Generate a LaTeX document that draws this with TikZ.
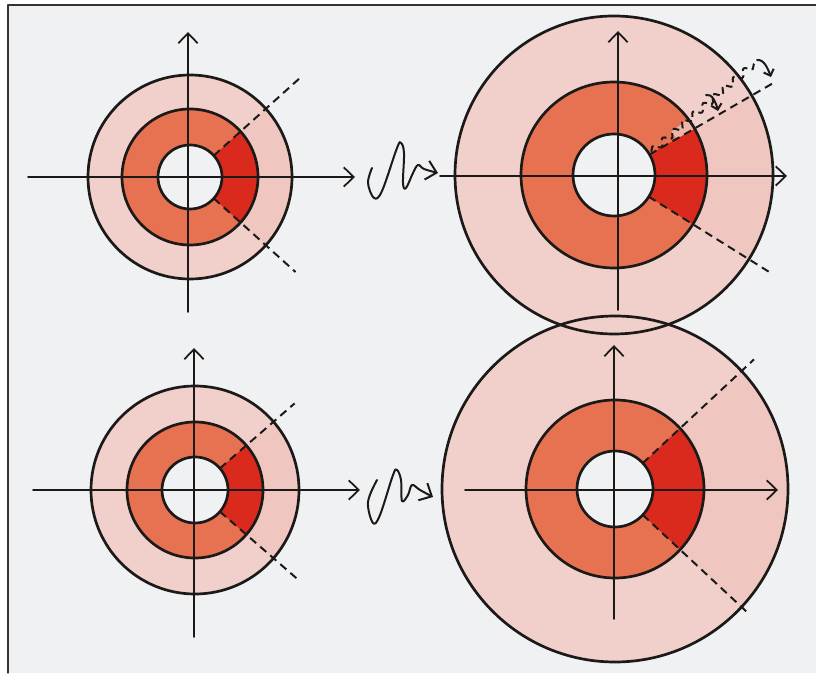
\documentclass[tikz,border=0pt]{standalone}
\usetikzlibrary{arrows.meta,calc,decorations.pathmorphing}

\definecolor{paper}{RGB}{239,241,243}
\definecolor{ink}{RGB}{28,26,24}
\definecolor{ringpale}{RGB}{241,208,204}
\definecolor{sectorpale}{RGB}{240,199,192}
\definecolor{ringmid}{RGB}{231,114,82}
\definecolor{ringred}{RGB}{218,42,30}

\begin{document}
\begin{tikzpicture}[x=0.03cm, y=0.03cm, line join=round, line cap=round,
    >={Straight Barb[length=3mm, width=5.8mm]},
    rim/.style={line width=2.3pt, draw=ink},
    axis/.style={line width=1.5pt, draw=ink},
    cut/.style={line width=1.7pt, draw=ink, line cap=butt, dash pattern=on 2.4mm off 1.6mm},
    squig/.style={line width=1.7pt, draw=ink}]

    \useasboundingbox (0,0) rectangle (816,673);

    % Paper and scan edge
    \fill[white] (0,0) rectangle (816,673);
    \fill[paper] (8,0) rectangle (816,668);
    \draw[line width=1pt, black!80] (8,0) -- (8,668) -- (816,668);

    % Centres
    \coordinate (tl) at (190,496);
    \coordinate (tr) at (614,498);
    \coordinate (bl) at (195,183);
    \coordinate (br) at (615,184);

    % Outer rings (the two on the right overlap)
    \fill[ringpale] (tr) circle (159);
    \fill[ringpale] (br) circle (173);
    \fill[ringpale] (tl) circle (102);
    \fill[ringpale] (bl) circle (104);
    \fill[sectorpale] (tl) -- +(-42:102) arc[start angle=-42, end angle=42, radius=102] -- cycle;
    \fill[sectorpale] (bl) -- +(-41:104) arc[start angle=-41, end angle=41, radius=104] -- cycle;
    \fill[sectorpale] (tr) -- +(-32:159) arc[start angle=-32, end angle=30, radius=159] -- cycle;
    \fill[sectorpale] (br) -- +(-43:173) arc[start angle=-43, end angle=43, radius=173] -- cycle;

    % Middle rings and red wedges
    \fill[ringmid] (tl) circle (68);
    \fill[ringmid] (bl) circle (68);
    \fill[ringmid] (tr) circle (93);
    \fill[ringmid] (br) circle (89);
    \fill[ringred] (tl) -- +(-42:68) arc[start angle=-42, end angle=42, radius=68] -- cycle;
    \fill[ringred] (bl) -- +(-41:68) arc[start angle=-41, end angle=41, radius=68] -- cycle;
    \fill[ringred] (tr) -- +(-32:93) arc[start angle=-32, end angle=30, radius=93] -- cycle;
    \fill[ringred] (br) -- +(-43:89) arc[start angle=-43, end angle=43, radius=89] -- cycle;
    \fill[ringpale!70!ringmid] ($(tr)+(30:72)$) arc[start angle=30, end angle=37, radius=72]
        -- ($(tr)+(37:93)$) arc[start angle=37, end angle=30, radius=93] -- cycle;

    % Holes
    \fill[paper] (tl) circle (32);
    \fill[paper] (bl) circle (33);
    \fill[paper] (tr) circle (41);
    \fill[paper] (br) circle (38);

    % Outlines
    \draw[rim] (tl) circle (102) (tl) circle (68) (tl) circle (32);
    \draw[rim] (bl) circle (104) (bl) circle (68) (bl) circle (33);
    \draw[rim] (tr) circle (159) (tr) circle (93) (tr) circle (41);
    \draw[rim] (br) circle (173) (br) circle (89) (br) circle (38);

    % Axes
    \draw[axis, ->] (28,496) -- (355,496);
    \draw[axis, ->] (188,361) -- (188,641);
    \draw[axis, ->] (33,183) -- (360,183);
    \draw[axis, ->] (194,36) -- (194,325);
    \draw[axis, ->] (440,497) -- (787,497);
    \draw[axis, ->] (618,363) -- (618,642);
    \draw[axis, ->] (465,183) -- (778,183);
    \draw[axis, ->] (614,54) -- (614,328);

    % Cuts along the wedge edges
    \draw[cut] ($(tl)+(42:32)$) -- ($(tl)+(42:148)$);
    \draw[cut] ($(tl)+(-42:32)$) -- ($(tl)+(-42:142)$);
    \draw[cut] ($(bl)+(41:33)$) -- ($(bl)+(41:132)$);
    \draw[cut] ($(bl)+(-41:33)$) -- ($(bl)+(-41:136)$);
    \draw[cut] ($(tr)+(30:41)$) -- ($(tr)+(30:186)$);
    \draw[cut] ($(tr)+(-32:41)$) -- ($(tr)+(-32:184)$);
    \draw[cut] ($(br)+(43:38)$) -- ($(br)+(43:190)$);
    \draw[cut] ($(br)+(-43:38)$) -- ($(br)+(-43:184)$);

    % Moving edge in the top right wedge
    \draw[cut, dash pattern=on 2mm off 1.3mm, decorate,
        decoration={snake, amplitude=1mm, segment length=4mm}]
        ($(tr)+(32:44)$) -- ($(tr)+(38.5:181)$);
    \draw[squig, ->, >={Straight Barb[length=1.6mm, width=3.2mm]}]
        (706,578) .. controls (712,580) and (716,570) .. (718,562);
    \draw[squig, ->, >={Straight Barb[length=1.6mm, width=3.2mm]}]
        (757,613) .. controls (764,614) and (768,604) .. (771,596);

    % Squiggly maps between the columns
    \draw[squig, ->] plot[smooth, tension=0.6] coordinates {(372,505) (368,490) (374,475)
        (382,482) (397,525) (401,530) (404,520) (403,490) (406,485) (413,500) (418,508)
        (424,504) (438,500)};
    \draw[squig, ->] plot[smooth, tension=0.6] coordinates {(377,193) (368,171) (373,150)
        (380,158) (393,198) (397,203) (401,193) (402,172) (408,178) (412,188) (420,183)
        (433,176)};

\end{tikzpicture}
\end{document}
